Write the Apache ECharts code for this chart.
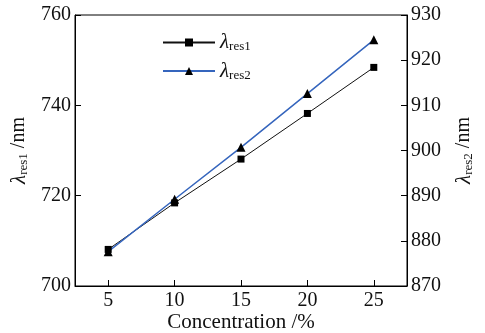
<!DOCTYPE html>
<html>
<head>
<meta charset="utf-8">
<script src="https://cdn.jsdelivr.net/npm/echarts@6/dist/echarts.min.js"></script>
<style>
  html, body { margin: 0; padding: 0; background: #fff; }
  #chart { width: 485px; height: 333px; }
</style>
</head>
<body>
<div id="chart"></div>
<script>
// concentration (%) on x, resonance wavelengths on two y axes
const concentration = [5, 10, 15, 20, 25];
const lambdaRes1 = [708.1, 718.4, 728.1, 738.2, 748.4];   // left axis
const lambdaRes2 = [877.6, 889.2, 900.7, 912.6, 924.5];   // right axis
const xTicks = [5, 10, 15, 20, 25];

const FONT = 'Liberation Serif';
const subRich = {
    l: { fontFamily: FONT, fontSize: 21, fontStyle: 'italic', color: '#111' },
    s: { fontFamily: FONT, fontSize: 13, color: '#111', verticalAlign: 'bottom', padding: [9, 0, 0, 0] },
    u: { fontFamily: FONT, fontSize: 20, color: '#111' },
};

const chart = echarts.init(document.getElementById('chart'));

const option = {
    animation: false,
    backgroundColor: '#fff',
    grid: {
        left: 75,
        right: 78,
        top: 15,
        bottom: 47,
        outerBoundsMode: 'none',
        containLabel: false,
        show: true,
        borderColor: '#000',
        borderWidth: 1,
    },
    legend: {
        orient: 'vertical',
        left: 157,
        top: 27,
        itemWidth: 52,
        itemHeight: 10,
        itemGap: 7,
        data: ['res1', 'res2'],
        formatter: (name) => `{l|λ}{s|${name}}`,
        textStyle: { rich: subRich },
    },
    xAxis: {
        type: 'value',
        min: 2.5,
        max: 27.5,
        name: 'Concentration /%',
        nameLocation: 'middle',
        nameGap: 26,
        nameMoveOverlap: false,
        nameTextStyle: { fontFamily: FONT, fontSize: 21, color: '#111' },
        axisLine: { lineStyle: { color: '#000', width: 1 } },
        axisTick: { inside: true, length: 6, customValues: xTicks, lineStyle: { color: '#000' } },
        axisLabel: { customValues: xTicks, fontFamily: FONT, fontSize: 20, color: '#111', margin: 5 },
        splitLine: { show: false },
    },
    yAxis: [
        {
            type: 'value',
            min: 700,
            max: 760,
            interval: 20,
            position: 'left',
            name: '{l|λ}{s|res1}{u| /nm}',
            nameLocation: 'middle',
            nameRotate: 90,
            nameGap: 44,
            nameTextStyle: { rich: subRich },
            axisLine: { show: true, lineStyle: { color: '#000', width: 1 } },
            axisTick: { inside: true, length: 6, lineStyle: { color: '#000' } },
            axisLabel: { fontFamily: FONT, fontSize: 20, color: '#111', margin: 4 },
            splitLine: { show: false },
        },
        {
            type: 'value',
            min: 870,
            max: 930,
            interval: 10,
            position: 'right',
            name: '{l|λ}{s|res2}{u| /nm}',
            nameLocation: 'middle',
            nameRotate: 90,
            nameGap: 46,
            nameTextStyle: { rich: subRich },
            axisLine: { show: true, lineStyle: { color: '#000', width: 1 } },
            axisTick: { inside: true, length: 6, lineStyle: { color: '#000' } },
            axisLabel: { fontFamily: FONT, fontSize: 20, color: '#111', margin: 4 },
            splitLine: { show: false },
        },
    ],
    series: [
        {
            name: 'res1',
            type: 'line',
            yAxisIndex: 0,
            data: concentration.map((c, i) => [c, lambdaRes1[i]]),
            symbol: 'rect',
            symbolSize: 7,
            itemStyle: { color: '#000' },
            lineStyle: { color: '#111', width: 1 },
        },
        {
            name: 'res2',
            type: 'line',
            yAxisIndex: 1,
            data: concentration.map((c, i) => [c, lambdaRes2[i]]),
            symbol: 'triangle',
            symbolSize: 9,
            itemStyle: { color: '#000' },
            lineStyle: { color: '#3565bd', width: 1.5 },
        },
    ],
};

chart.setOption(option);
</script>
</body>
</html>
